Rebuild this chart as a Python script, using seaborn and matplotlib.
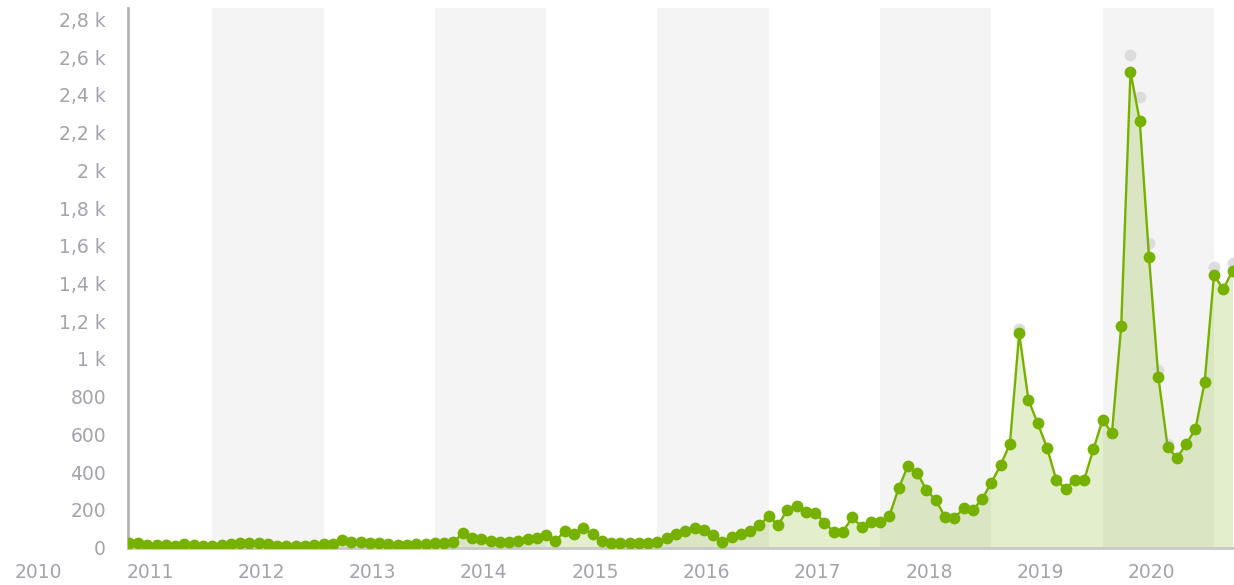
import numpy as np
import pandas as pd
import matplotlib
matplotlib.use("Agg")
import matplotlib.pyplot as plt
import matplotlib.transforms as mtransforms
import seaborn as sns

sns.set_theme(style="white")
plt.rcParams['font.family'] = ['DejaVu Sans']

# ---- data (monthly, April 2011 .. March 2021) ----
start_year = 2011
start_month = 4
values = [
    # 2011 Apr-Dec
    25, 22, 15, 12, 12, 10, 18, 12, 8,
    # 2012
    10, 15, 18, 22, 25, 24, 18, 10, 8, 8, 10, 15,
    # 2013
    18, 20, 42, 30, 28, 25, 25, 18, 12, 15, 20, 18,
    # 2014
    22, 25, 28, 75, 52, 45, 37, 28, 27, 35, 45, 52,
    # 2015
    66, 34, 87, 70, 105, 70, 34, 25, 22, 22, 22, 25,
    # 2016
    30, 50, 72, 87, 105, 93, 66, 31, 57, 72, 89, 119,
    # 2017
    167, 119, 199, 220, 190, 185, 132, 84, 84, 160, 110, 137,
    # 2018
    137, 167, 314, 432, 397, 305, 252, 163, 155, 208, 199, 256,
    # 2019
    344, 437, 549, 1136, 782, 658, 529, 358, 312, 358, 358, 521,
    # 2020
    678, 605, 1175, 2523, 2262, 1539, 906, 535, 473, 549, 627, 879,
    # 2021 Jan-Mar
    1445, 1369, 1468,
]
shadow_dates = ["2019-04", "2020-04", "2020-05", "2020-06", "2020-07", "2020-08", "2021-01", "2021-03"]
shadow_values = [1160, 2610, 2390, 1615, 940, 550, 1490, 1510]

year_labels = [str(y) for y in range(2010, 2021)]
ytick_values = list(range(0, 2801, 200))
ytick_labels = ["0", "200", "400", "600", "800", "1 k", "1,2 k", "1,4 k", "1,6 k",
                "1,8 k", "2 k", "2,2 k", "2,4 k", "2,6 k", "2,8 k"]

# ---- build frame ----
n = len(values)
t = [start_year + (start_month - 1 + i) / 12.0 for i in range(n)]
df = pd.DataFrame({"t": t, "value": values})
sh_t = [int(d[:4]) + (int(d[5:]) - 1) / 12.0 for d in shadow_dates]
sdf = pd.DataFrame({"t": sh_t, "value": shadow_values})

GREEN = "#76b100"
TXT = "#a3a3ab"

W, H = 1234, 585
fig = plt.figure(figsize=(W / 100, H / 100), dpi=100)
ax_left, ax_right, ax_bottom, ax_top = 128, 1234, 548, 8
ax = fig.add_axes([ax_left / W, (H - ax_bottom) / H, (ax_right - ax_left) / W, (ax_bottom - ax_top) / H])

# alternating year bands
for y in range(2012, 2022, 2):
    ax.axvspan(y, y + 1, color="#f4f4f4", zorder=0, lw=0)

ax.fill_between(df["t"], 0, df["value"], color=GREEN, alpha=0.2, lw=0, zorder=1)

ax.plot(sdf["t"], sdf["value"], "o", color="#dcdcdc", markersize=8.5, markeredgewidth=0, zorder=2)
sns.lineplot(data=df, x="t", y="value", ax=ax, color=GREEN, lw=1.7, marker="o",
             markersize=8.5, markeredgewidth=0, zorder=3)

ax.set_xlim(2011.243, 2021.18)
ax.set_ylim(-2.7, 2861)

ax.set_yticks(ytick_values)
ax.set_yticklabels(ytick_labels)
ax.tick_params(axis="y", length=0, pad=15.8, labelsize=13.5, labelcolor=TXT)
ax.set_xticks([])
ax.set_xlabel("")
ax.set_ylabel("")

trans = mtransforms.blended_transform_factory(ax.transData, ax.transAxes)
for lab in year_labels:
    yr = int(lab)
    ax.text(yr + 0.44, -24 / 540, lab, transform=trans, ha="center", va="center",
            fontsize=13.5, color=TXT, clip_on=False)

for s in ["top", "right"]:
    ax.spines[s].set_visible(False)
ax.spines["left"].set_color("#b4b4b4")
ax.spines["left"].set_linewidth(2)
ax.spines["bottom"].set_color("#c8c8c8")
ax.spines["bottom"].set_linewidth(2)
ax.grid(False)

fig.savefig("out.png", dpi=100)
